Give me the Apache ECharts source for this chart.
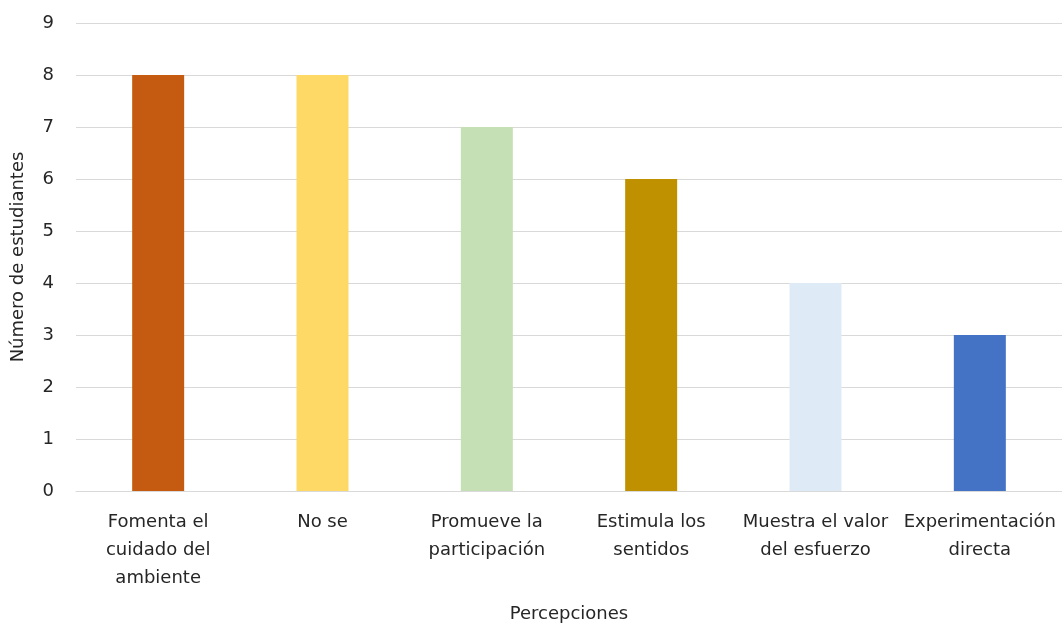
<!DOCTYPE html>
<html>
<head>
<meta charset="utf-8">
<script src="https://cdn.jsdelivr.net/npm/echarts@6/dist/echarts.min.js"></script>
<style>html,body{margin:0;padding:0;background:#fff}#c{width:1062px;height:626px}</style>
</head>
<body>
<div id="c"></div>
<script>
const categories = ["Fomenta el\ncuidado del\nambiente", "No se", "Promueve la\nparticipación", "Estimula los\nsentidos", "Muestra el valor\ndel esfuerzo", "Experimentación\ndirecta"];
const values = [8, 8, 7, 6, 4, 3];
const colors = ["#C55A11", "#FFD966", "#C5E0B4", "#BF9000", "#DEEBF7", "#4472C4"];
const yTicks = [0, 1, 2, 3, 4, 5, 6, 7, 8, 9];
const xTitle = "Percepciones";
const yTitle = "Número de estudiantes";

const font = "'DejaVu Sans', sans-serif";
const chart = echarts.init(document.getElementById('c'));
chart.setOption({
  animation: false,
  grid: {left: 76, right: 0, top: 23, bottom: 135, containLabel: false, outerBoundsMode: 'none'},
  xAxis: {
    type: 'category',
    data: categories,
    name: xTitle,
    nameLocation: 'middle',
    nameGap: 114,
    nameTextStyle: {color: '#262626', fontSize: 18, fontFamily: font},
    axisLine: {show: true, lineStyle: {color: '#d9d9d9', width: 1}},
    axisTick: {show: false},
    axisLabel: {color: '#262626', fontSize: 18, fontFamily: font, lineHeight: 28, margin: 17, interval: 0}
  },
  yAxis: {
    type: 'value',
    min: yTicks[0],
    max: yTicks[yTicks.length - 1],
    interval: 1,
    name: yTitle,
    nameLocation: 'middle',
    nameGap: 49,
    nameTextStyle: {color: '#262626', fontSize: 18, fontFamily: font},
    axisLine: {show: false},
    axisTick: {show: false},
    axisLabel: {color: '#262626', fontSize: 18, fontFamily: font, margin: 22},
    splitLine: {lineStyle: {color: '#d9d9d9', width: 1}}
  },
  series: [{
    type: 'bar',
    data: values.map((v, i) => ({value: v, itemStyle: {color: colors[i]}})),
    barWidth: 52
  }]
});
</script>
</body>
</html>
